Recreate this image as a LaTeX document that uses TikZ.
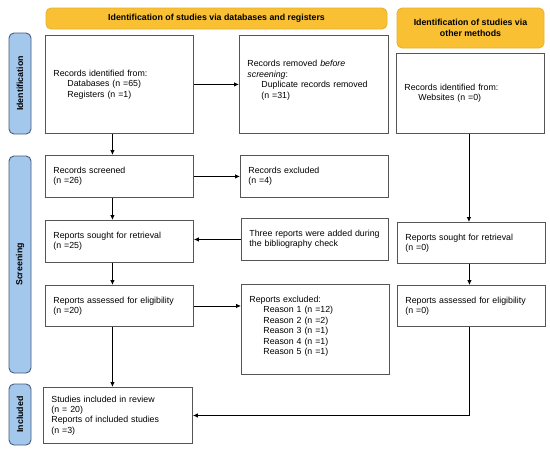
\documentclass[tikz,border=0pt]{standalone}
\usepackage{fontspec}
\setmainfont{Liberation Sans}
\usetikzlibrary{arrows.meta}
\definecolor{hdrfill}{RGB}{248,192,50}
\definecolor{hdrdraw}{RGB}{232,176,48}
\definecolor{tabfill}{RGB}{164,200,236}
\definecolor{tabdraw}{RGB}{70,92,125}
\definecolor{boxdraw}{RGB}{85,85,85}
\tikzset{
  every node/.style={font=\fontsize{8.8}{10.4}\selectfont},
  box/.style={draw=boxdraw, line width=0.9pt, fill=white, anchor=north west, inner xsep=8pt, inner ysep=2pt, align=left},
  hdr/.style={draw=hdrdraw, fill=hdrfill, line width=0.8pt, rounded corners=5pt, align=center, font=\fontsize{8.8}{10.4}\selectfont\bfseries},
  tab/.style={draw=tabdraw, fill=tabfill, line width=0.9pt, rounded corners=5pt, rotate=90, minimum height=22pt, inner sep=0pt, font=\fontsize{8.8}{10.4}\selectfont\bfseries},
  arr/.style={draw=black, line width=0.8pt, -{Latex[length=5pt,width=4.5pt]}},
  ln/.style={draw=boxdraw, line width=0.8pt}
}
\newcommand{\ind}{\hspace*{14pt}}
\begin{document}
\begin{tikzpicture}[x=1pt,y=1pt]
\useasboundingbox[fill=white] (0,0) rectangle (550,-451);
% headers
\node[hdr, minimum width=341pt, minimum height=21pt] (h1) at (216.5,-18.5) {Identification of studies via databases and registers};
\node[hdr, minimum width=147pt, minimum height=40pt] (h2) at (470.5,-28) {Identification of studies via\\other methods};
% side tabs
\node[tab, minimum width=101pt] (t1) at (20,-83.5) {Identification};
\node[tab, minimum width=217pt] (t2) at (20,-264.5) {Screening};
\node[tab, minimum width=61pt] (t3) at (20,-414.5) {Included};
% left column
\node[box, minimum width=148pt, minimum height=98pt, text width=132pt] (b1) at (45,-35) {Records identified from:\\\ind Databases (n =65)\\\ind Registers (n =1)};
\node[box, minimum width=148pt, minimum height=42pt, text width=132pt] (scr) at (45,-155) {Records screened\\(n =26)};
\node[box, minimum width=148pt, minimum height=42pt, text width=132pt] (sought) at (45,-220) {Reports sought for retrieval\\(n =25)};
\node[box, minimum width=148pt, minimum height=41pt, text width=132pt] (ass) at (45,-285) {Reports assessed for eligibility\\(n =20)};
\node[box, minimum width=149pt, minimum height=56pt, text width=133pt] (inc) at (43,-387) {Studies included in review\\(n = 20)\\Reports of included studies\\(n =3)};
% middle column
\node[box, minimum width=149pt, minimum height=98pt, text width=133pt] (rem) at (239,-35) {Records removed \textit{before}\\\textit{screening}:\\\ind Duplicate records removed\\\ind (n =31)\\\mbox{}};
\node[box, minimum width=148pt, minimum height=42pt, text width=132pt] (exc) at (240,-155) {Records excluded\\(n =4)};
\node[box, minimum width=147pt, minimum height=42pt, text width=131pt] (three) at (241,-218) {Three reports were added during\\the bibliography check};
\node[box, minimum width=148pt, minimum height=90pt, text width=132pt] (rexc) at (241,-284) {Reports excluded:\\\ind Reason 1 (n =12)\\\ind Reason 2 (n =2)\\\ind Reason 3 (n =1)\\\ind Reason 4 (n =1)\\\ind Reason 5 (n =1)\\[-2pt]\mbox{}};
% right column
\node[box, minimum width=148pt, minimum height=80pt, text width=132pt] (oth) at (396,-53) {Records identified from:\\\ind Websites (n =0)};
\node[box, minimum width=148pt, minimum height=41pt, text width=132pt] (rsought) at (397,-222) {Reports sought for retrieval\\(n =0)};
\node[box, minimum width=148pt, minimum height=41pt, text width=132pt] (rass) at (397,-285) {Reports assessed for eligibility\\(n =0)};
% arrows left column
\draw[arr] ([xshift=-7pt]b1.south) -- ([xshift=-7pt]scr.north);
\draw[arr] ([xshift=-7pt]scr.south) -- ([xshift=-7pt]sought.north);
\draw[arr] ([xshift=-7pt]sought.south) -- ([xshift=-7pt]ass.north);
\draw[arr] ([xshift=-7pt]ass.south) -- ([xshift=-5.5pt]inc.north);
% horizontal arrows
\draw[arr] (b1.east) -- (b1.east -| rem.west);
\draw[arr] (scr.east) -- (scr.east -| exc.west);
\draw[arr] (three.west) -- (three.west -| sought.east);
\draw[arr] (ass.east) -- (ass.east -| rexc.west);
% right column
\draw[arr] ([xshift=-1.5pt]oth.south) -- ([xshift=-1.5pt]oth.south |- rsought.north);
\draw[arr] ([xshift=-2pt]rsought.south) -- ([xshift=-2pt]rass.north);
\draw[arr] ([xshift=-2pt]rass.south) |- (inc.east);
\end{tikzpicture}
\end{document}
